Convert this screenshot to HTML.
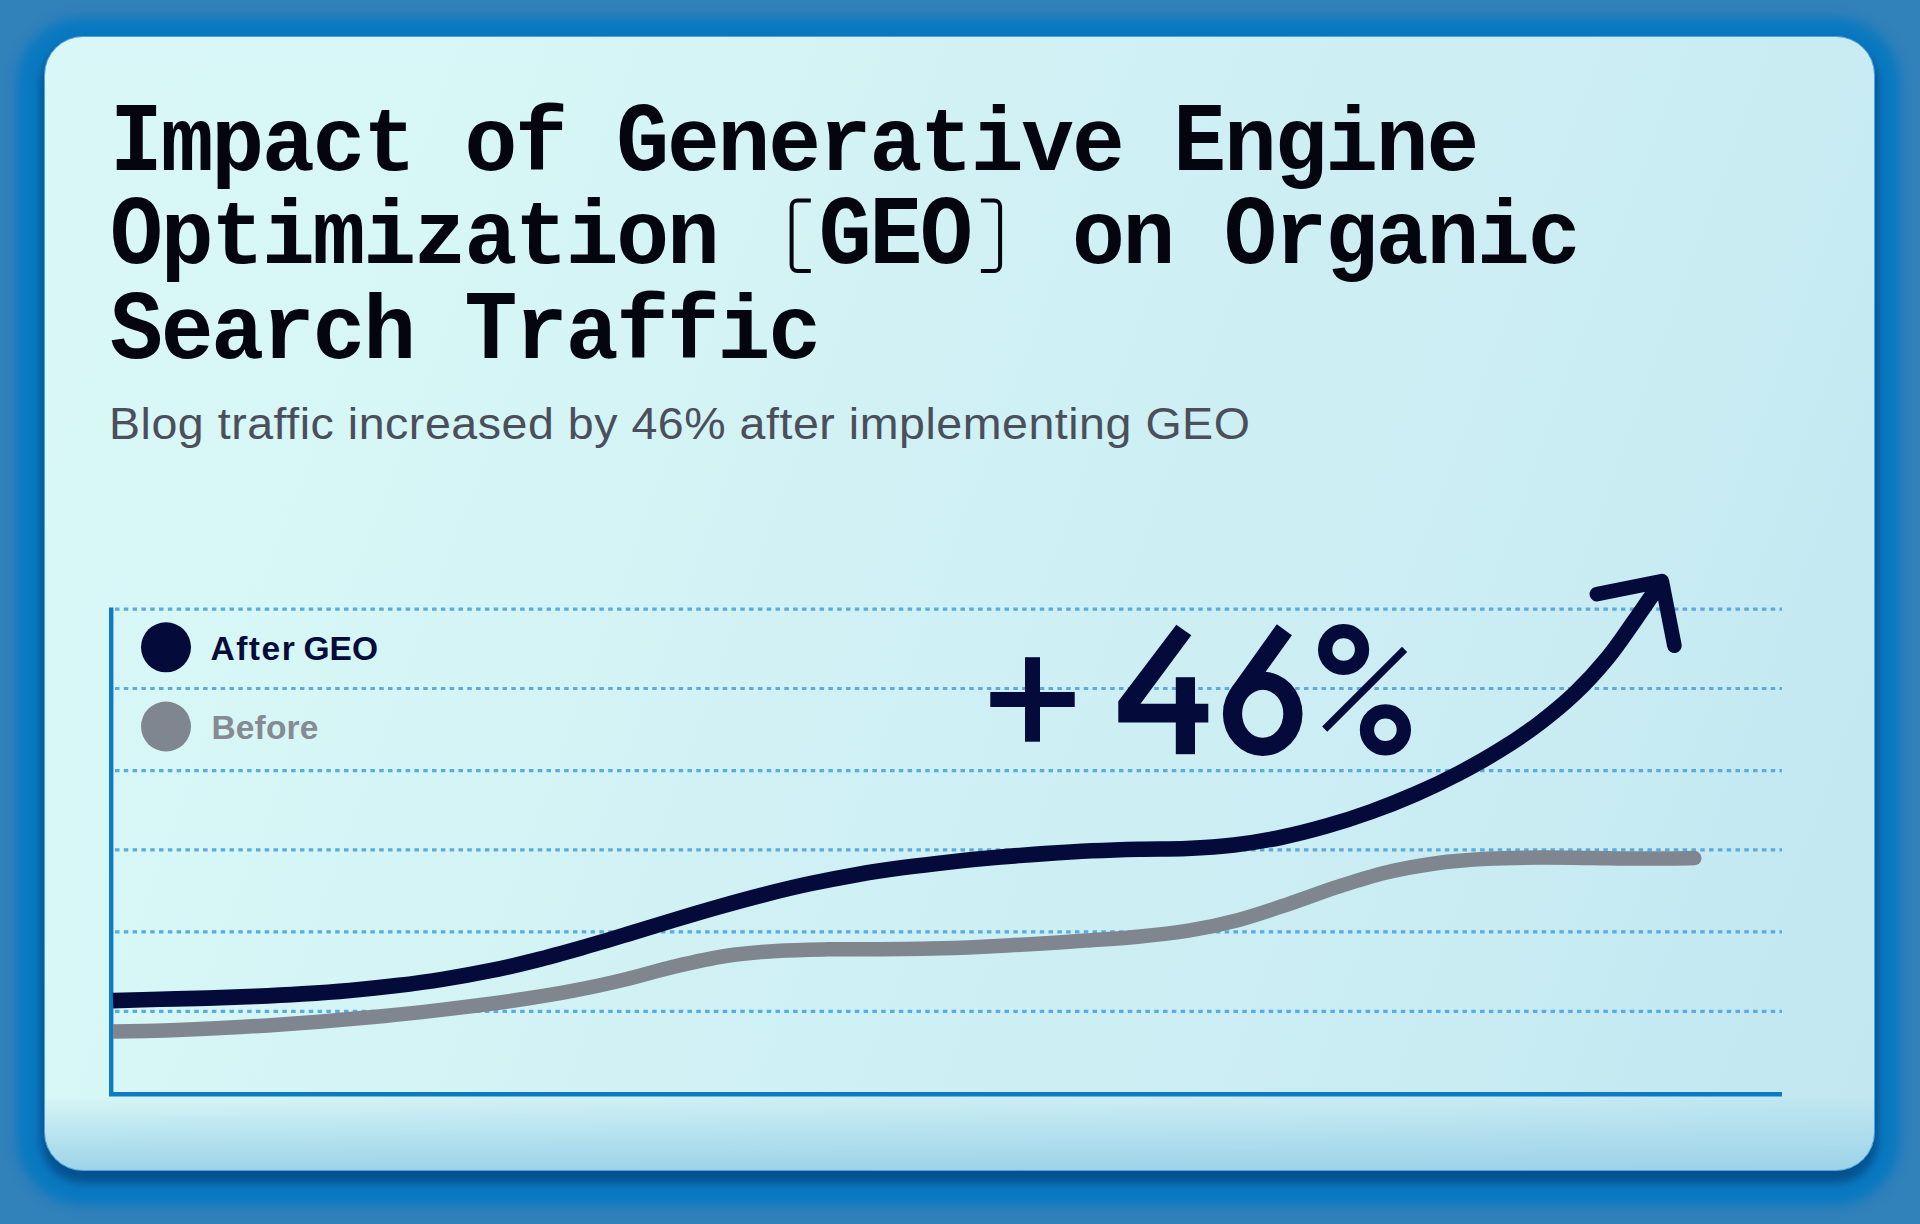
<!DOCTYPE html>
<html lang="en">
<head>
<meta charset="utf-8">
<title>Impact of GEO on Organic Search Traffic</title>
<style>
  html, body { margin: 0; padding: 0; }
  body {
    width: 1920px; height: 1224px; overflow: hidden; position: relative;
    background: #3181ba;
    font-family: "Liberation Sans", sans-serif;
  }
  .card {
    position: absolute; left: 44px; top: 36px; width: 1831px; height: 1135px;
    box-sizing: border-box;
    border-radius: 39px;
    border: 1px solid #4fa3da;
    background:
      linear-gradient(to bottom, rgba(157,211,233,0) 1059px, rgba(157,211,233,1) 1133px),
      linear-gradient(110deg, #d9f7f7 0%, #d7f6f6 20%, #cff0f4 50%, #c9ecf3 80%, #c3e8f1 92%, #c2e7f0 100%);
    box-shadow:
      0 9px 10px 3px #06518f,
      -1px 8px 11px 26px #0a79c1;
  }
  .title {
    position: absolute; left: 110px; top: 99.2px; margin: 0;
    font-family: "Liberation Mono", monospace; font-weight: bold;
    font-size: 88px; line-height: 90.38px; letter-spacing: -2.18px;
    color: #05050f; white-space: pre;
    transform-origin: 0 0; transform: scale(1, 1.04);
  }
  .title b { display: inline-block; font-weight: bold; transform: scaleY(1.075); transform-origin: 0 68.6px; }
  .sub {
    position: absolute; left: 109px; top: 398px; margin: 0;
    font-size: 44.5px; line-height: 52px; letter-spacing: 0.5px; color: #4b4e5b; white-space: pre;
    transform-origin: 0 0; transform: scaleX(1.046);
  }
  .leg { position: absolute; margin: 0; font-weight: bold; font-size: 33.5px; line-height: 40px; white-space: pre; }
  svg { position: absolute; left: 0; top: 0; }
</style>
</head>
<body>
<div class="card"></div>

<h1 class="title"><b>I</b>mpact of <b>G</b>enerative <b>E</b>ngine
<b>O</b>ptimization  <b>G</b><b>E</b><b>O</b>  on <b>O</b>rganic
<b>S</b>earch <b>T</b>raffic</h1>
<p class="sub">Blog traffic increased by 46% after implementing GEO</p>

<svg width="1920" height="1224" viewBox="0 0 1920 1224">
  <!-- grid -->
  <g stroke="#5aabdf" stroke-width="3.2" stroke-dasharray="4.5 4.307" fill="none">
    <path d="M115 609.15H1782"/>
    <path d="M115 688.5H1782"/>
    <path d="M115 770.55H1782"/>
    <path d="M115 849.9H1782"/>
    <path d="M115 931.95H1782"/>
    <path d="M115 1011.3H1782"/>
  </g>
  <!-- axes -->
  <path d="M111.2 607.5V1094.2H1782" fill="none" stroke="#0c7ac4" stroke-width="4.4"/>


  <!-- brackets -->
  <g fill="none" stroke="#05050f" stroke-width="4">
    <path d="M810.8 200.5H797.6a6 6 0 0 0 -6 6V265a6 6 0 0 0 6 6H810.8"/>
    <path d="M980.9 200.5H994.1a6 6 0 0 1 6 6V265a6 6 0 0 1 -6 6H980.9"/>
  </g>

  <!-- +46% -->
  <g fill="#040b3b">
    <rect x="990.3" y="692" width="84.4" height="15"/>
    <rect x="1025" y="657.2" width="15" height="84.5"/>
    <path d="M1118.3 701.3V722.5H1208.3V703.7H1140.5L1191.3 635.3L1176.3 624.7Z"/>
    <rect x="1175.8" y="677.2" width="19.2" height="77"/>
    <path d="M1276.8 624.2L1291.9 635.2L1265.8 671.6L1258 685L1230.9 688.4Z"/>
    <path fill-rule="evenodd" d="M1222.9 713.8a39.8 42.1 0 1 0 79.6 0a39.8 42.1 0 1 0 -79.6 0ZM1242.1 713.8a20.6 24 0 1 0 41.2 0a20.6 24 0 1 0 -41.2 0Z"/>
  </g>
  <circle cx="1343.6" cy="649.5" r="18.45" fill="none" stroke="#040b3b" stroke-width="14.3"/>
  <circle cx="1385.4" cy="729.8" r="18.45" fill="none" stroke="#040b3b" stroke-width="14.3"/>
  <path d="M1404.6 649.3L1324.7 729.2" fill="none" stroke="#040b3b" stroke-width="7.3"/>

  <!-- arrow head -->
  <path d="M1596.9 594.1L1661.8 581.1L1674.4 645.7" fill="none" stroke="#040b3b" stroke-width="14.7" stroke-linecap="round" stroke-linejoin="round"/>

  <!-- legend dots -->
  <circle cx="166" cy="647.3" r="25" fill="#040b3b"/>
  <circle cx="166" cy="726.5" r="25" fill="#7f8690"/>

  <!-- before curve -->
  <path id="before" fill="none" stroke="#7f8690" stroke-width="14.5" stroke-linecap="butt"
    d="M113.0 1031.6C121.6 1031.4 147.3 1030.9 164.5 1030.4C181.7 1029.8 198.8 1029.1 216.0 1028.3C233.2 1027.4 250.3 1026.5 267.5 1025.4C284.7 1024.3 301.8 1023.1 319.0 1021.8C336.1 1020.4 353.2 1018.9 370.4 1017.3C387.5 1015.7 404.6 1014.0 421.7 1012.1C438.8 1010.2 455.8 1008.2 472.9 1006.0C489.9 1003.9 507.0 1001.6 523.9 999.0C540.9 996.4 557.9 993.7 574.7 990.4C591.6 987.2 608.4 983.5 625.1 979.5C641.8 975.5 658.3 970.3 675.1 966.4C691.8 962.5 708.5 958.6 725.4 956.0C742.4 953.4 759.5 952.0 776.6 950.9C793.8 949.8 811.0 949.6 828.2 949.3C845.4 949.0 862.6 949.3 879.8 949.2C897.0 949.1 914.2 949.0 931.4 948.6C948.5 948.2 965.7 947.5 982.9 946.7C1000.1 945.9 1017.2 944.9 1034.4 943.9C1051.6 942.9 1068.7 941.8 1085.9 940.6C1103.1 939.4 1120.3 938.4 1137.4 936.7C1154.4 935.1 1171.5 933.4 1188.4 930.6C1205.3 927.8 1222.0 924.3 1238.6 919.9C1255.1 915.5 1271.4 909.8 1287.8 904.3C1304.1 898.9 1320.3 892.6 1336.7 887.2C1353.1 881.9 1369.4 876.5 1386.1 872.5C1402.7 868.5 1419.5 865.5 1436.5 863.2C1453.4 860.9 1470.5 859.7 1487.7 858.8C1504.9 857.8 1522.2 857.7 1539.5 857.6C1556.7 857.4 1574.1 857.9 1591.4 858.0C1608.6 858.2 1625.9 858.6 1643.0 858.6C1660.2 858.6 1685.8 858.2 1694.3 858.1"/>
  <circle cx="1694.3" cy="858.1" r="7.25" fill="#7f8690"/>
  <!-- after curve -->
  <path id="after" fill="none" stroke="#040b3b" stroke-width="15.6" stroke-linecap="butt"
    d="M113.0 1000.6C120.9 1000.4 144.5 999.7 160.2 999.3C176.0 998.9 191.8 998.6 207.6 998.1C223.4 997.6 239.2 997.1 255.0 996.4C270.8 995.7 286.6 994.9 302.4 993.9C318.2 992.9 334.0 991.8 349.7 990.4C365.5 989.1 381.2 987.5 396.8 985.6C412.5 983.7 428.1 981.6 443.7 979.1C459.2 976.7 474.7 973.9 490.2 970.7C505.6 967.6 520.9 964.0 536.2 960.1C551.5 956.3 566.7 952.0 581.9 947.7C597.1 943.4 612.2 938.8 627.4 934.2C642.5 929.6 657.6 924.9 672.8 920.4C688.0 915.8 703.1 911.3 718.3 907.0C733.5 902.7 748.8 898.5 764.1 894.6C779.4 890.7 794.7 887.0 810.1 883.7C825.5 880.4 841.0 877.4 856.5 874.7C872.1 872.0 887.7 869.7 903.3 867.6C919.0 865.5 934.7 863.7 950.4 862.0C966.1 860.3 981.8 858.7 997.5 857.3C1013.2 855.9 1029.0 854.6 1044.7 853.6C1060.5 852.5 1076.2 851.5 1092.0 850.8C1107.8 850.1 1123.6 849.6 1139.4 849.2C1155.2 848.8 1171.1 849.2 1186.9 848.5C1202.6 847.8 1218.4 846.9 1234.0 845.1C1249.7 843.2 1265.2 840.6 1280.6 837.5C1296.1 834.3 1311.4 830.4 1326.5 826.1C1341.7 821.8 1356.7 816.9 1371.6 811.5C1386.4 806.2 1401.1 800.3 1415.6 794.0C1430.1 787.7 1444.4 780.9 1458.4 773.6C1472.4 766.3 1486.3 758.6 1499.7 750.2C1513.2 741.9 1526.4 733.1 1538.9 723.6C1551.5 714.1 1563.7 704.0 1575.1 693.2C1586.4 682.4 1597.1 670.7 1607.1 658.5C1617.1 646.4 1625.8 633.0 1635.0 620.1C1644.1 607.2 1657.3 587.6 1661.8 581.1"/>
</svg>

<p class="leg" style="left:210.5px; top:629px; color:#050b3a; letter-spacing:0px; word-spacing:-2px;"><span style="letter-spacing:1.5px">After</span> GEO</p>
<p class="leg" style="left:211.5px; top:708.3px; color:#868a93; letter-spacing:0.15px;">Before</p>
</body>
</html>
